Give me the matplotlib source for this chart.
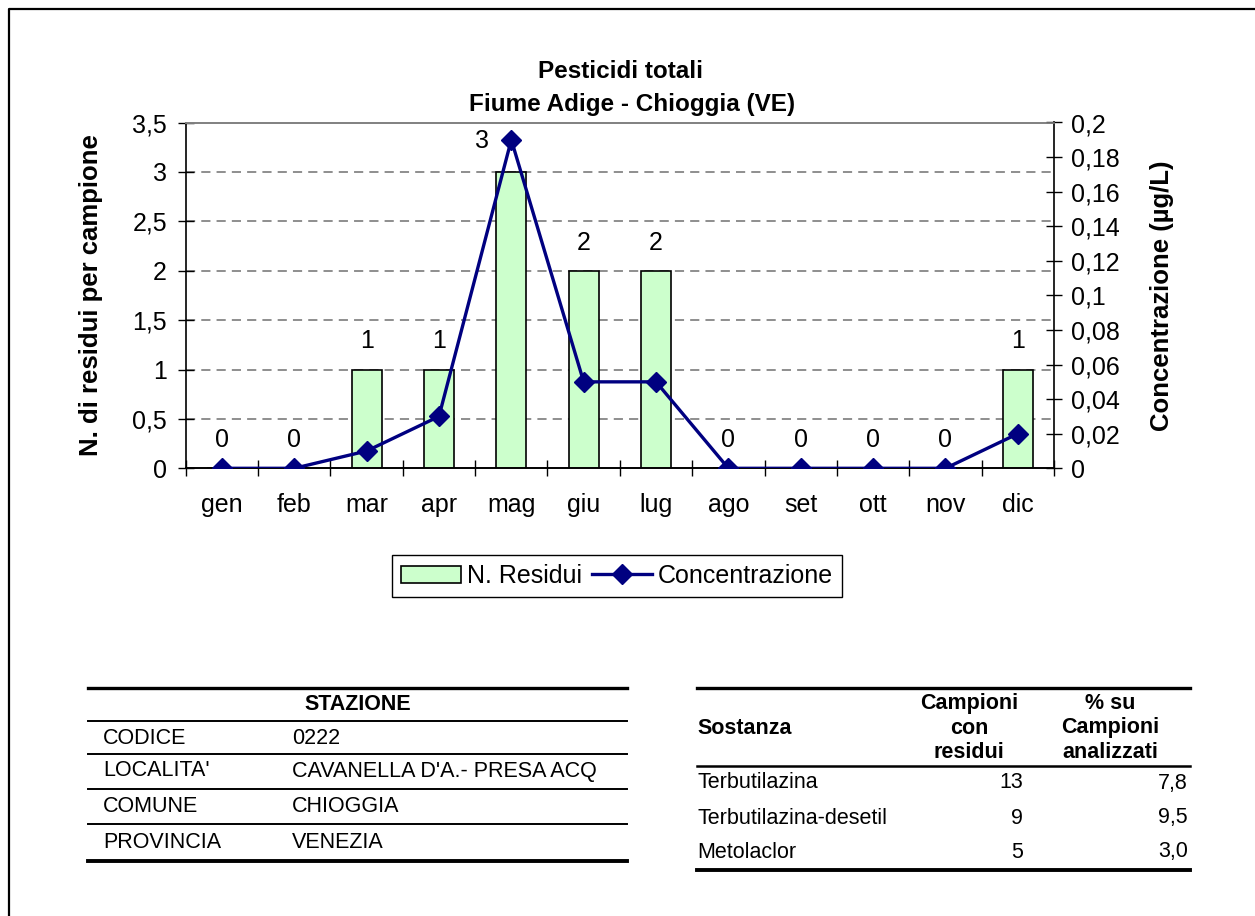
import numpy as np
import matplotlib.pyplot as plt
from matplotlib.ticker import FuncFormatter, FixedLocator

plt.rcParams['font.family'] = ['Liberation Sans', 'DejaVu Sans']

# chart data
mesi = ['gen', 'feb', 'mar', 'apr', 'mag', 'giu', 'lug', 'ago', 'set', 'ott', 'nov', 'dic']
n_residui = [0, 0, 1, 1, 3, 2, 2, 0, 0, 0, 0, 1]
concentrazione = [0, 0, 0.01, 0.03, 0.19, 0.05, 0.05, 0, 0, 0, 0, 0.02]

# station table
stazione_campi = ['CODICE', "LOCALITA'", 'COMUNE', 'PROVINCIA']
stazione_valori = ['0222', "CAVANELLA D'A.- PRESA ACQ", 'CHIOGGIA', 'VENEZIA']

# substances table
sostanze = ['Terbutilazina', 'Terbutilazina-desetil', 'Metolaclor']
campioni_residui = [13, 9, 5]
perc_campioni = [7.8, 9.5, 3.0]

W, H = 1255, 916
fig = plt.figure(figsize=(W / 100, H / 100), dpi=100)

# overlay in pixel coords for frame and tables
bg = fig.add_axes([0, 0, 1, 1])
bg.set_xlim(0, W)
bg.set_ylim(H, 0)
bg.axis('off')

ax = fig.add_axes([185.7 / W, 1 - 468.3 / H, (1054 - 185.7) / W, (468.3 - 122.5) / H])
ax2 = ax.twinx()

x = np.arange(len(mesi))
ax.bar(x, n_residui, width=0.415, color='#CCFFCC', edgecolor='black', linewidth=1.2,
       zorder=3, label='N. Residui')
ax2.plot(x, concentrazione, color='#000080', linewidth=2.4, marker='D', markersize=10.5,
         zorder=4, label='Concentrazione')

for i, v in enumerate(n_residui):
    dx, dy = (0, 28)
    if v == max(n_residui):
        dx, dy = (-29, 31)
    ax.annotate(str(v), (i, v), xytext=(dx, dy), textcoords='offset pixels',
                ha='center', va='center', fontsize=18)

comma = lambda v, p: ('%g' % v).replace('.', ',')

ax.set_xlim(-0.5, 11.5)
ax.set_ylim(0, 3.5)
ax.set_yticks(np.arange(0, 3.51, 0.5))
ax.yaxis.set_major_formatter(FuncFormatter(comma))
ax2.set_ylim(0, 0.2)
ax2.set_yticks(np.arange(0, 0.201, 0.02))
ax2.yaxis.set_major_formatter(FuncFormatter(comma))

ax.xaxis.set_major_locator(FixedLocator(np.arange(-0.5, 12, 1)))
ax.xaxis.set_major_formatter(FuncFormatter(lambda v, p: ''))
ax.set_xticks(x, minor=True)
ax.set_xticklabels(mesi, minor=True)
ax.tick_params(axis='x', which='major', direction='inout', length=11, width=1)
ax.tick_params(axis='x', which='minor', length=0, pad=18, labelsize=18)
ax.tick_params(axis='y', direction='inout', length=11, width=1, pad=8, labelsize=18)
ax2.tick_params(axis='y', direction='inout', length=11, width=1, pad=7, labelsize=18)

for y in np.arange(0.5, 3.01, 0.5):
    ax.axhline(y, color='#707070', linestyle=(0, (6, 4)), linewidth=1.1, zorder=1)

for a in (ax, ax2):
    a.spines['top'].set_color('#808080')
    a.set_facecolor('none')
    for s in a.spines.values():
        s.set_linewidth(1.2)
ax.spines['right'].set_visible(False)
ax2.spines['left'].set_visible(False)

ax.set_ylabel('N. di residui per campione', fontsize=18.5, fontweight='bold')
ax.yaxis.set_label_coords(-0.095, 0.5)
ax2.set_ylabel('Concentrazione (µg/L)', fontsize=18.5, fontweight='bold', rotation=90)
ax2.yaxis.set_label_coords(1.111, 0.5)

fig.text(621 / W, 1 - 72 / H, 'Pesticidi totali', ha='center', va='center',
         fontsize=17.5, fontweight='bold')
fig.text(632 / W, 1 - 104 / H, 'Fiume Adige - Chioggia (VE)', ha='center', va='center',
         fontsize=17.5, fontweight='bold')

h1, l1 = ax.get_legend_handles_labels()
h2, l2 = ax2.get_legend_handles_labels()
leg = fig.legend(h1 + h2, l1 + l2, loc='center', bbox_to_anchor=(617 / W, 1 - 576 / H),
                 ncol=2, fontsize=18, frameon=True, fancybox=False, edgecolor='black',
                 framealpha=1, handlelength=2.4, handletextpad=0.25, columnspacing=0.4,
                 borderpad=0.35, numpoints=1, borderaxespad=0)
leg.get_frame().set_linewidth(1)

# outer frame (left and top edges)
bg.plot([9, 9, W], [H, 9, 9], color='black', linewidth=1.6)

# station table
tf = 15.5
bg.plot([88, 627], [688, 688], color='black', linewidth=2.4)
for yl in [721, 754, 789, 824]:
    bg.plot([88, 627], [yl, yl], color='black', linewidth=1.4)
bg.plot([88, 627], [861, 861], color='black', linewidth=2.8)
bg.text(358, 705, 'STAZIONE', ha='center', va='center', fontsize=tf, fontweight='bold')
for yt, campo, valore in zip([738, 771, 806, 843], stazione_campi, stazione_valori):
    bg.text(103, yt, campo, ha='left', va='center', fontsize=tf)
    bg.text(292, yt, valore, ha='left', va='center', fontsize=tf)

# substances table
bg.plot([697, 1190], [688, 688], color='black', linewidth=2.4)
bg.plot([697, 1190], [766, 766], color='black', linewidth=1.8)
bg.plot([697, 1190], [870, 870], color='black', linewidth=2.8)
bg.text(697, 728, 'Sostanza', ha='left', va='center', fontsize=tf, fontweight='bold')
bg.text(969, 728, 'Campioni\ncon\nresidui', ha='center', va='center', fontsize=tf,
        fontweight='bold', linespacing=1.2)
bg.text(1110, 728, '% su\nCampioni\nanalizzati', ha='center', va='center', fontsize=tf,
        fontweight='bold', linespacing=1.2)
for yt, nome, n, p in zip([783, 818, 852], sostanze, campioni_residui, perc_campioni):
    bg.text(697, yt, nome, ha='left', va='center', fontsize=tf)
    bg.text(1023, yt, str(n), ha='right', va='center', fontsize=tf)
    bg.text(1188, yt, ('%.1f' % p).replace('.', ','), ha='right', va='center', fontsize=tf)

fig.savefig('out.png', dpi=100)
